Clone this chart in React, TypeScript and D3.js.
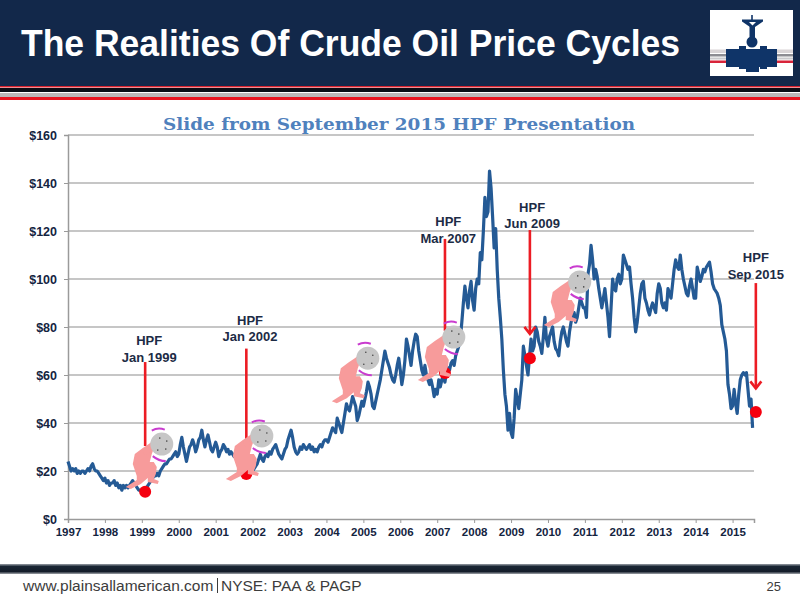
import React, { useRef, useEffect } from "react";
import * as d3 from "d3";

// half-month readings of the price line, one list per year
const prices1997 = [24, 22, 20, 21, 20, 21, 19, 20, 19, 20, 20, 19, 20, 21, 20, 22, 23, 21, 20, 20, 19, 18, 17, 16];
const prices1998 = [17, 15, 16, 14, 15, 15, 16, 14, 15, 13, 14, 12, 14, 13, 14, 13, 14, 15, 16, 15, 14, 13, 12, 12];
const prices1999 = [11, 12, 12, 13, 14, 15, 16, 17, 18, 18, 19, 18, 20, 21, 22, 23, 23, 24, 25, 25, 26, 27, 28, 26];
const prices2000 = [27, 31, 34, 30, 27, 24, 27, 30, 31, 33, 31, 28, 30, 33, 34, 37, 33, 30, 33, 35, 32, 29, 28, 30];
const prices2001 = [32, 30, 26, 28, 29, 31, 30, 28, 29, 27, 28, 27, 26, 27, 25, 26, 27, 25, 26, 24, 23, 21, 20, 20];
const prices2002 = [20, 21, 22, 23, 25, 27, 25, 24, 26, 27, 26, 28, 27, 29, 30, 31, 29, 27, 26, 25, 27, 29, 30, 33];
const prices2003 = [35, 37, 34, 30, 28, 27, 28, 30, 29, 31, 30, 29, 30, 31, 29, 30, 28, 29, 28, 30, 31, 30, 32, 33];
const prices2004 = [33, 32, 34, 36, 38, 37, 36, 42, 40, 38, 36, 40, 44, 48, 46, 45, 48, 51, 49, 47, 41, 43, 46, 49];
const prices2005 = [47, 50, 53, 57, 55, 52, 47, 46, 49, 52, 55, 58, 62, 66, 70, 67, 65, 63, 60, 58, 57, 60, 64, 67];
const prices2006 = [62, 56, 60, 66, 75, 72, 68, 64, 70, 74, 77, 76, 70, 66, 62, 60, 64, 60, 58, 56, 58, 55, 51, 54];
const prices2007 = [52, 58, 55, 58, 60, 57, 61, 63, 62, 65, 66, 64, 68, 70, 72, 75, 82, 90, 97, 92, 88, 95, 99, 91];
const prices2008 = [87, 96, 100, 98, 111, 108, 120, 134, 126, 128, 145, 138, 126, 113, 121, 104, 92, 84, 75, 62, 52, 47, 37, 44];
const prices2009 = [36, 34, 42, 54, 50, 46, 52, 58, 72, 68, 64, 60, 68, 75, 70, 72, 80, 78, 74, 72, 69, 76, 84, 75];
const prices2010 = [72, 76, 78, 80, 74, 71, 70, 68, 74, 78, 80, 77, 74, 72, 78, 82, 84, 86, 82, 84, 88, 92, 90, 88];
const prices2011 = [88, 84, 102, 106, 114, 108, 100, 104, 101, 96, 92, 88, 92, 96, 90, 84, 76, 88, 100, 96, 95, 100, 102, 98];
const prices2012 = [100, 110, 108, 106, 104, 105, 98, 92, 84, 78, 82, 88, 94, 98, 99, 92, 90, 87, 85, 88, 90, 88, 86, 94];
const prices2013 = [98, 96, 90, 88, 90, 87, 96, 94, 92, 98, 104, 108, 105, 104, 110, 104, 100, 97, 94, 93, 97, 100, 96, 92];
const prices2014 = [92, 105, 102, 99, 101, 104, 103, 105, 106, 107, 103, 98, 96, 95, 94, 92, 89, 81, 78, 75, 70, 56, 52, 46];
const prices2015 = [47, 54, 48, 44, 52, 58, 60, 61, 60, 61, 54, 47, 50, 38];

const yearLists = [
    prices1997, prices1998, prices1999, prices2000, prices2001, prices2002, prices2003,
    prices2004, prices2005, prices2006, prices2007, prices2008, prices2009, prices2010,
    prices2011, prices2012, prices2013, prices2014, prices2015,
];

const yearTicks = d3.range(1997, 2016);
const priceTicks = [0, 20, 40, 60, 80, 100, 120, 140, 160];

// HPF callouts
const hpfNames = ["Jan 1999", "Jan 2002", "Mar 2007", "Jun 2009", "Sep 2015"];
const hpfDates = [1999.09, 2001.83, 2007.21, 2009.51, 2015.63];
const hpfPrices = [11.4, 18.7, 60.8, 67, 44.6];
const hpfTopPrices = [65.4, 71, 116.7, 120.4, 98.3];
const hpfEndPrices = [30, 30, 78, 76.7, 54];
const hpfArrow = [false, false, false, true, true];
const hpfLabelDates = [1999.2, 2001.93, 2007.3, 2009.57, 2015.63];
const hpfLabelPrices = [72.5, 81, 122, 128, 107];

// boulders
const boulderDates = [1999.54, 2002.25, 2005.12, 2007.45, 2010.86];
const boulderPrices = [31.2, 34.6, 67, 75.8, 98.8];

const manOutline: [number, number][] = [
    [-36, 43], [-25, 36], [-25, 32], [-29, 20], [-27, 10], [-19, 4], [-13, 0], [-9, -3], [-7, 2],
    [-10, 10], [-12, 18], [-8, 18], [-5, 23], [-6, 30], [-8, 35], [-3, 37], [-4, 40], [-14, 38],
    [-14, 34], [-21, 40], [-31, 45],
];
const boulderSpecks: [number, number][] = [[-2, -6], [5, -3], [4, 5], [-4, 6]];

const SANS = "'Liberation Sans', Arial, sans-serif";
const NAVY = "#12284a";
const RED = "#ec1c24";

const Logo = () => (
    <g>
        <rect x={710} y={10} width={83} height={66} fill="#fff" />
        <rect x={710} y={49.5} width={83} height={3.5} fill="#d9d4d6" />
        <rect x={710} y={54} width={83} height={2.5} fill="#8c8c92" />
        <rect x={710} y={57.5} width={83} height={2} fill="#c9c9cc" />
        <rect x={710} y={60.5} width={83} height={2.5} fill="#d8243a" />
        <g fill="#0f3468">
            <rect x={726} y={49} width={51} height={18} />
            <rect x={739} y={46} width={7} height={4} />
            <rect x={760} y={46} width={7} height={4} />
            <rect x={739} y={66} width={7} height={3} />
            <rect x={760} y={66} width={7} height={3} />
            <rect x={746} y={66} width={13} height={6} />
            <circle cx={752} cy={42} r={5.5} />
            <rect x={749.5} y={25} width={5.5} height={14} />
            <rect x={751.2} y={15} width={1.6} height={6} />
            <path d="M742 19.5 H763 V21.5 L755 27 H750 L742 21.5 Z" />
        </g>
        <path d="M749 22 H756 L752.5 25.5 Z" fill="#fff" />
    </g>
);

export default function App() {
    const chartRef = useRef<SVGGElement | null>(null);

    useEffect(() => {
        const x = d3.scaleLinear().domain([1997, 2015.58]).range([68, 754]);
        const y = d3.scaleLinear().domain([0, 160]).range([519, 135]);
        const g = d3.select(chartRef.current);
        g.selectAll("*").remove();

        // gridlines
        g.selectAll(".grid")
            .data(priceTicks.slice(1))
            .enter()
            .append("line")
            .attr("x1", x(1997))
            .attr("x2", x.range()[1])
            .attr("y1", (d) => y(d))
            .attr("y2", (d) => y(d))
            .attr("stroke", "#b3b3b3")
            .attr("stroke-width", 1.5);

        // axes
        const yAxis = g
            .append("g")
            .attr("transform", `translate(${x(1997)},0)`)
            .call(d3.axisLeft(y).tickValues(priceTicks).tickFormat((d) => `$${d}`).tickSize(4).tickPadding(7));
        const xAxis = g
            .append("g")
            .attr("transform", `translate(0,${y(0)})`)
            .call(d3.axisBottom(x).tickValues(yearTicks).tickFormat((d) => `${d}`).tickSize(4).tickPadding(5));
        [yAxis, xAxis].forEach((a) => {
            a.selectAll("path").attr("stroke", "#9a9a9a").attr("stroke-width", 1.5);
            a.selectAll("line").attr("stroke", "#9a9a9a");
            a.selectAll("text").attr("fill", "#14243f").attr("font-family", SANS).attr("font-weight", "bold");
        });
        yAxis.selectAll("text").attr("font-size", 12.5);
        xAxis.selectAll("text").attr("font-size", 11.5);

        // price line
        const series = yearLists.flatMap((list, i) =>
            list.map((value, j) => ({ date: yearTicks[i] + j / 24, value })),
        );
        const line = d3
            .line<{ date: number; value: number }>()
            .x((d) => x(d.date))
            .y((d) => y(d.value));
        g.append("path")
            .datum(series)
            .attr("d", line)
            .attr("fill", "none")
            .attr("stroke", "#245a95")
            .attr("stroke-width", 3.2)
            .attr("stroke-linejoin", "round");

        // red markers, arrows
        hpfNames.forEach((name, i) => {
            const px = x(hpfDates[i]);
            g.append("circle").attr("cx", px).attr("cy", y(hpfPrices[i])).attr("r", 6).attr("fill", "#f5000f");
            g.append("line")
                .attr("x1", px)
                .attr("x2", px)
                .attr("y1", y(hpfTopPrices[i]))
                .attr("y2", y(hpfEndPrices[i]) - 1)
                .attr("stroke", RED)
                .attr("stroke-width", 2.6);
            if (hpfArrow[i]) {
                const tip = y(hpfEndPrices[i]);
                g.append("path")
                    .attr("d", `M${px - 5.5} ${tip - 8} L${px} ${tip - 1} L${px + 5.5} ${tip - 8}`)
                    .attr("fill", "none")
                    .attr("stroke", RED)
                    .attr("stroke-width", 2.6);
            }
            const label = g
                .append("text")
                .attr("x", x(hpfLabelDates[i]))
                .attr("y", y(hpfLabelPrices[i]))
                .attr("text-anchor", "middle")
                .attr("font-family", SANS)
                .attr("font-size", 13)
                .attr("font-weight", "bold")
                .attr("fill", "#1c2b45");
            label.append("tspan").attr("x", x(hpfLabelDates[i])).text("HPF");
            label.append("tspan").attr("x", x(hpfLabelDates[i])).attr("dy", 16.5).text(name);
        });

        // man pushing the boulder
        boulderDates.forEach((date, i) => {
            const m = g.append("g").attr("transform", `translate(${x(date)},${y(boulderPrices[i])})`);
            m.append("path")
                .attr("d", d3.line()(manOutline) + "Z")
                .attr("fill", "#f79b9b");
            m.append("circle").attr("cx", -15).attr("cy", 7).attr("r", 3.5).attr("fill", "#f79b9b");
            m.append("circle").attr("r", 11.5).attr("fill", "#c6c6c6");
            m.selectAll(".speck")
                .data(boulderSpecks)
                .enter()
                .append("circle")
                .attr("cx", (d) => d[0])
                .attr("cy", (d) => d[1])
                .attr("r", 0.8)
                .attr("fill", "#444");
            m.append("path")
                .attr("d", "M-10 -13.5 Q-4 -17 3 -14.5")
                .attr("fill", "none")
                .attr("stroke", "#c93ccf")
                .attr("stroke-width", 2);
            m.append("path")
                .attr("d", "M-9 12 Q-3 17 4 17")
                .attr("fill", "none")
                .attr("stroke", "#c93ccf")
                .attr("stroke-width", 2);
        });
    }, []);

    return (
        <svg width={800} height={600} style={{ position: "absolute", left: 0, top: 0, background: "#fff" }}>
            <defs>
                <linearGradient id="footerBar" x1="0" x2="0" y1="0" y2="1">
                    <stop offset="0" stopColor="#9aa0a8" />
                    <stop offset="0.25" stopColor="#1a2634" />
                    <stop offset="0.75" stopColor="#141d2a" />
                    <stop offset="1" stopColor="#a0a4aa" />
                </linearGradient>
            </defs>
            <rect x={0} y={0} width={800} height={86} fill={NAVY} />
            <text
                x={21}
                y={56}
                fontFamily={SANS}
                fontSize={37}
                fontWeight="bold"
                fill="#fff"
                textLength={659}
                lengthAdjust="spacingAndGlyphs"
            >
                The Realities Of Crude Oil Price Cycles
            </text>
            <Logo />
            <rect x={0} y={86} width={800} height={1.5} fill="#d8202c" />
            <rect x={0} y={88} width={800} height={4} fill="#0a0d14" />
            <rect x={0} y={93} width={800} height={4} fill="#bdb8b8" />
            <rect x={0} y={97} width={800} height={3} fill="#ea1620" />
            <text
                x={163}
                y={130}
                fontFamily="'DejaVu Serif', serif"
                fontSize={16}
                fontWeight="bold"
                fill="#4f81bd"
                textLength={472}
                lengthAdjust="spacingAndGlyphs"
            >
                Slide from September 2015 HPF Presentation
            </text>
            <g ref={chartRef} />
            <rect x={0} y={564} width={800} height={10} fill="url(#footerBar)" />
            <text x={23} y={591} fontFamily={SANS} fontSize={15.5} fill="#3c3c3c">
                www.plainsallamerican.com
            </text>
            <rect x={217} y={578} width={1} height={15} fill="#3c3c3c" />
            <text x={221} y={591} fontFamily={SANS} fontSize={15.5} fill="#3c3c3c">
                NYSE: PAA &amp; PAGP
            </text>
            <text x={781} y={591} textAnchor="end" fontFamily={SANS} fontSize={13} fill="#3c3c3c">
                25
            </text>
        </svg>
    );
}
